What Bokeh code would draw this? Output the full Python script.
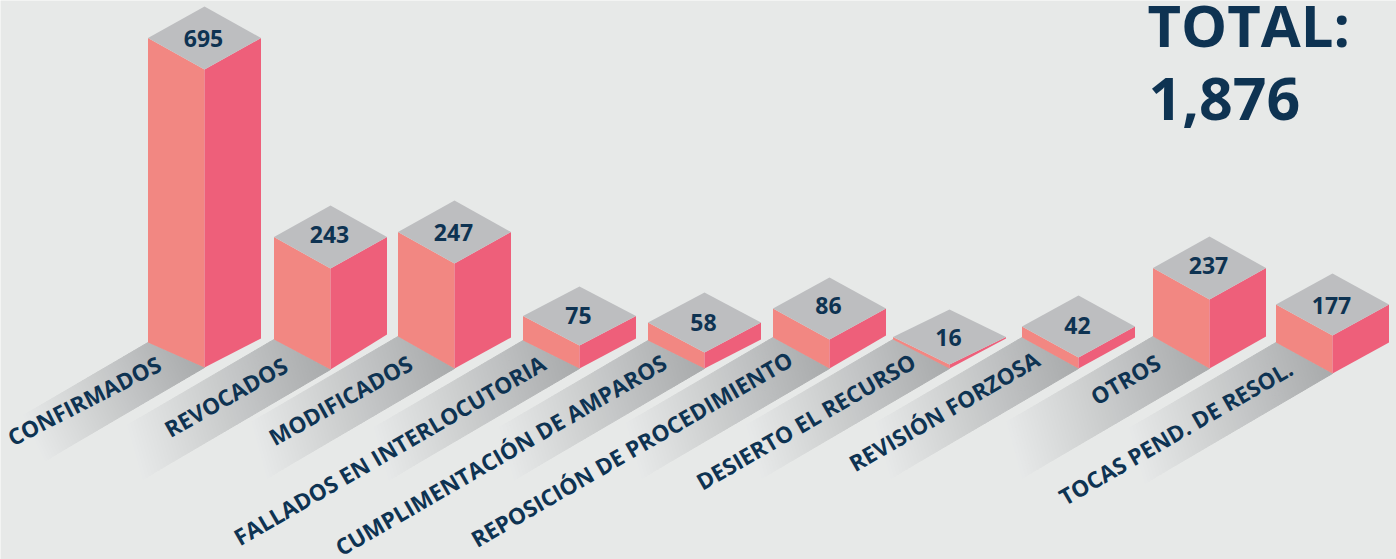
import numpy as np
from bokeh.plotting import figure
from bokeh.embed import file_html
from bokeh.resources import INLINE
from bokeh.core.properties import value

categories = ["CONFIRMADOS", "REVOCADOS", "MODIFICADOS", "FALLADOS EN INTERLOCUTORIA",
              "CUMPLIMENTACIÓN DE AMPAROS", "REPOSICIÓN DE PROCEDIMIENTO", "DESIERTO EL RECURSO",
              "REVISIÓN FORZOSA", "OTROS", "TOCAS PEND. DE RESOL."]
values = [695, 243, 247, 75, 58, 86, 16, 42, 237, 177]
# heights of the front edges as drawn in the (non-proportional) infographic
drawn_heights = [298, 101, 105, 23, 16, 29, 4, 11, 69, 38]
total_title = "TOTAL:"
total_value = "1,876"

# layout
center_x = [204, 330, 454, 579, 704, 829, 949, 1078, 1209, 1332]
base_y = [367, 369, 368, 368, 368, 368, 368, 368, 368, 373]
top_half = [31.5, 31.5, 31.5, 29.5, 30, 31, 27.5, 31, 31.5, 31]
rise_left = [25, 30, 32, 28, 28, 31, 29, 31, 32, 31]
rise_right = [29, 35, 31, 30, 29, 33, 30, 31, 32, 31]
strip_len = [159, 187, 187, 190, 190, 187, 187, 187, 187, 187]
label_end_x = [159, 285, 410, 543, 664, 790, 913, 1037, 1158, 1290]
label_end_y = [362, 363, 361, 361, 360, 357, 359, 357, 360, 366]
label_angle = [27, 29.5, 29, 30, 30, 30, 30, 30, 30, 30]
number_dy = [0, -3, 0, -1, 0, -3, 0, -1, -3, 1]
HALF_W, SLOPE = 56.5, 0.585
SKEW, LEVELS = 0.22, 62

BG, LEFT, RIGHT, TOP, INK = "#e7e9e8", "#f28782", "#ee5f7a", "#bdbec0", "#0e3352"
DARK = np.array([0xa8, 0xaa, 0xac], float)
LIGHT = np.array([0xe7, 0xe9, 0xe8], float)

p = figure(width=1396, height=559, x_range=(0, 1396), y_range=(559, 0),
           output_backend="svg", toolbar_location=None, min_border=0,
           background_fill_color=BG, border_fill_color=BG, outline_line_color=None,
           x_axis_location=None, y_axis_location=None)
p.grid.visible = False


def shade(u, v):
    return u + SKEW * (1 - v)


def clip_band(s0, s1):
    """Part of the unit square (u, v) whose shade lies between s0 and s1."""
    poly = [(0.0, 0.0), (1.0, 0.0), (1.0, 1.0), (0.0, 1.0)]
    for limit, keep_below in ((s0, False), (s1, True)):
        out = []
        for i, a in enumerate(poly):
            b = poly[(i + 1) % len(poly)]
            sa, sb = shade(*a) - limit, shade(*b) - limit
            if keep_below:
                sa, sb = -sa, -sb
            if sa >= 0:
                out.append(a)
            if (sa >= 0) != (sb >= 0):
                t = sa / (sa - sb)
                out.append((a[0] + (b[0] - a[0]) * t, a[1] + (b[1] - a[1]) * t))
        poly = out
        if not poly:
            break
    return poly


# gradient strips under every bar, cut into bands of one colour each
xs, ys, cs = [], [], []
for cx, by, rl, ln in zip(center_x, base_y, rise_left, strip_len):
    ax, ay = cx - HALF_W, by - rl
    dx, dy = -ln, ln * SLOPE
    ex, ey = cx - ax, by - ay
    for k in range(LEVELS - 1, -1, -1):
        poly = clip_band(k / LEVELS, (k + 1) / LEVELS)
        if len(poly) < 3:
            continue
        xs.append([ax + dx * u + ex * v for u, v in poly])
        ys.append([ay + dy * u + ey * v for u, v in poly])
        c = DARK + (LIGHT - DARK) * (k + 0.5) / LEVELS
        cs.append("#%02x%02x%02x" % tuple(int(round(q)) for q in c))
p.patches(xs, ys, fill_color=cs, line_color=cs, line_width=1)

# bars
lx, ly, rx, ry, tx, ty = [], [], [], [], [], []
for cx, by, h, rl, rr, th in zip(center_x, base_y, drawn_heights, rise_left, rise_right, top_half):
    ft = by - h
    lx.append([cx - HALF_W, cx, cx, cx - HALF_W])
    ly.append([ft - th, ft, by, by - rl])
    rx.append([cx, cx + HALF_W, cx + HALF_W, cx])
    ry.append([ft, ft - th, by - rr, by])
    tx.append([cx - HALF_W, cx, cx + HALF_W, cx])
    ty.append([ft - th, ft, ft - th, ft - 2 * th])
p.patches(lx, ly, fill_color=LEFT, line_color=None)
p.patches(rx, ry, fill_color=RIGHT, line_color=None)
p.patches(tx, ty, fill_color=TOP, line_color=None)

font = value("Open Sans")
p.text(x=[c - 1 for c in center_x],
       y=[by - h - th + d for by, h, th, d in zip(base_y, drawn_heights, top_half, number_dy)],
       text=[str(v) for v in values], text_font=font, text_font_style="bold",
       text_font_size="23px", text_color=INK, text_align="center", text_baseline="middle")
p.text(x=label_end_x, y=label_end_y, text=categories, angle=np.deg2rad(label_angle), text_font=font,
       text_font_style="bold", text_font_size="22.5px", text_color=INK,
       text_align="right", text_baseline="middle")
p.text(x=[1147], y=[24], text=[total_title], text_font=font, text_font_style="bold",
       text_font_size="58px", text_color=INK, text_align="left", text_baseline="middle")
p.text(x=[1148], y=[98], text=[total_value], text_font=font, text_font_style="bold",
       text_font_size="59px", text_color=INK, text_align="left", text_baseline="middle")

open("out.html", "w").write(file_html(p, INLINE))
